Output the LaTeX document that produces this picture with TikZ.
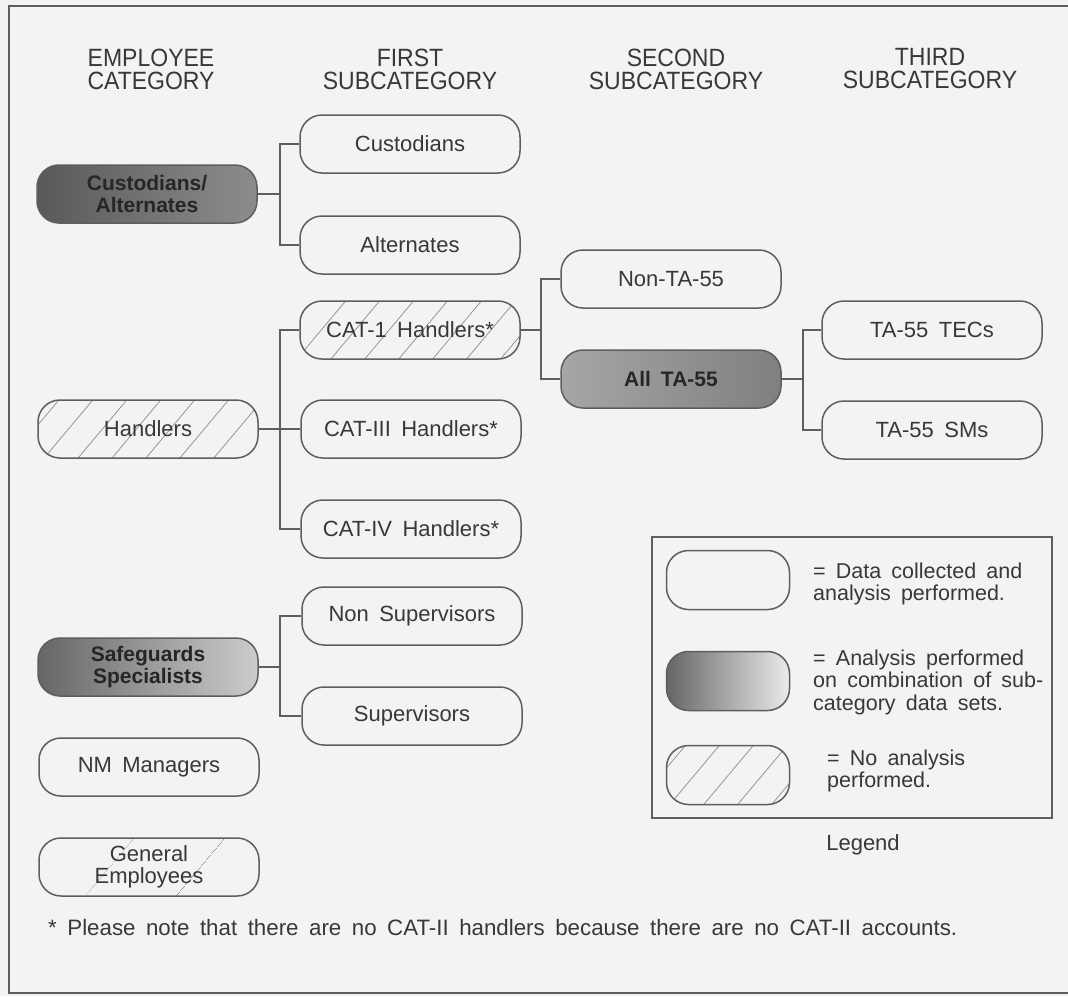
\documentclass[tikz,border=0pt]{standalone}
\usepackage{fontspec}
\setmainfont{Liberation Sans}[WordSpace=1.7]
\newfontfamily\hdrfont{Liberation Sans}[FakeStretch=0.92]
\usetikzlibrary{patterns.meta}
\definecolor{bg}{HTML}{F3F3F3}
\definecolor{ln}{HTML}{5E5E5E}
\definecolor{tx}{HTML}{383838}
\begin{document}
\begin{tikzpicture}[x=1pt,y=-1pt,
 box/.style={draw=ln, line width=1.5pt, rounded corners=22pt, minimum height=58pt, minimum width=220pt, align=center, text=tx, font=\fontsize{22}{22}\selectfont, inner sep=0pt},
 combo/.style={box, left color=black!60, right color=black!30, text=black!85, font=\fontsize{21}{22}\selectfont\bfseries},
 hatch/.style={box, pattern={Lines[angle=50,distance=26pt,line width=0.7pt]}, pattern color=black!45},
 lighthatch/.style={box, pattern={Lines[angle=50,distance=70pt,line width=0.6pt]}, pattern color=black!40},
 conn/.style={draw=ln, line width=1.5pt},
 frame/.style={draw=ln, line width=1.5pt},
 hdr/.style={align=center, text=tx, font=\hdrfont\fontsize{25}{23}\selectfont},
 lgtext/.style={align=left, anchor=west, text=tx, font=\fontsize{21.5}{22.5}\selectfont, inner sep=0pt}
]
\fill[bg] (0,0) rectangle (1068,996);
\useasboundingbox (0,0) rectangle (1068,996);
\draw[frame] (1068,6) -- (9,6) -- (9,993) -- (1068,993);

% headers
\node[hdr] (h1) at (151,69) {EMPLOYEE\\CATEGORY};
\node[hdr] (h2) at (410,69) {FIRST\\SUBCATEGORY};
\node[hdr] (h3) at (676,69) {SECOND\\SUBCATEGORY};
\node[hdr] (h4) at (930,69) {THIRD\\SUBCATEGORY};

% nodes
\node[combo, left color=black!65, right color=black!45] (ca) at (147,194) {Custodians/\\Alternates};
\node[box] (cust) at (410,144) {Custodians};
\node[box] (alt) at (410,245) {Alternates};
\node[hatch] (hand) at (148,429) {Handlers};
\node[hatch] (cat1) at (410,330) {CAT-1 Handlers*};
\node[box] (cat3) at (411,429) {CAT-III Handlers*};
\node[box] (cat4) at (411,529) {CAT-IV Handlers*};
\node[box] (nta) at (671,279) {Non-TA-55};
\node[combo, left color=black!35, right color=black!50] (ata) at (671,379) {All TA-55};
\node[box] (tec) at (932,330) {TA-55 TECs};
\node[box] (sm) at (932,430) {TA-55 SMs};
\node[combo, left color=black!60, right color=black!20] (sg) at (148,667) {Safeguards\\Specialists};
\node[box] (nsup) at (412,616) {Non Supervisors};
\node[box] (sup) at (412,716) {Supervisors};
\node[box] (nm) at (149,767) {NM Managers};
\node[lighthatch] (gen) at (149,867) {General\\Employees};

% connectors
\coordinate (j1) at (280,194);
\coordinate (j2) at (280,429);
\coordinate (j3) at (541,330);
\coordinate (j4) at (803,379);
\coordinate (j5) at (280,667);
\draw[conn] (ca.east) -- (j1);
\draw[conn] (cust.west) -- (cust.west -| j1) -- (alt.west -| j1) -- (alt.west);
\draw[conn] (hand.east) -- (cat3.west);
\draw[conn] (cat1.west) -- (cat1.west -| j2) -- (cat4.west -| j2) -- (cat4.west);
\draw[conn] (cat1.east) -- (j3);
\draw[conn] (nta.west) -- (nta.west -| j3) -- (ata.west -| j3) -- (ata.west);
\draw[conn] (ata.east) -- (j4);
\draw[conn] (tec.west) -- (tec.west -| j4) -- (sm.west -| j4) -- (sm.west);
\draw[conn] (sg.east) -- (j5);
\draw[conn] (nsup.west) -- (nsup.west -| j5) -- (sup.west -| j5) -- (sup.west);

% legend
\draw[frame] (652,537) rectangle (1052,818);
\node[box, minimum width=123pt, minimum height=59pt] (l1) at (728,580) {};
\node[combo, minimum width=123pt, minimum height=59pt, left color=black!60, right color=black!8] (l2) at (728,681) {};
\node[hatch, minimum width=123pt, minimum height=59pt] (l3) at (728,775) {};
\node[lgtext] (t1) at (813,584) {= Data collected and\\analysis performed.};
\node[lgtext] (t2) at (813,682) {= Analysis performed\\on combination of sub-\\category data sets.};
\node[lgtext] (t3) at (827,771) {= No analysis\\performed.};
\node[text=tx, font=\fontsize{22}{22}\selectfont] (lg) at (863,845) {Legend};

% footnote
\node[lgtext, font=\fontsize{22.3}{22}\selectfont] (fn) at (48,928) {* Please note that there are no CAT-II handlers because there are no CAT-II accounts.};
\end{tikzpicture}
\end{document}
